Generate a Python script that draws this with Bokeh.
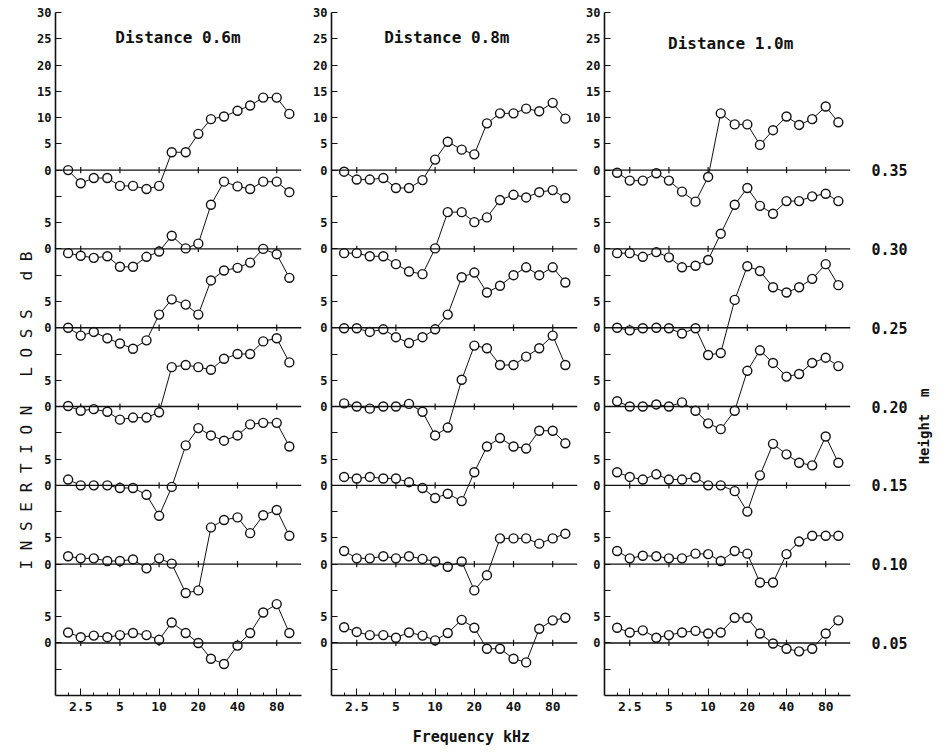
from bokeh.plotting import figure
from bokeh.layouts import row
from bokeh.models import FixedTicker, Label, Range1d, Span, LinearAxis, LogAxis, CustomJSTickFormatter
from bokeh.embed import file_html
from bokeh.resources import INLINE

# ---------------- data ----------------
FREQ = [2, 2.5, 3.15, 4, 5, 6.3, 8, 10, 12.5, 16, 20, 25, 31.5, 40, 50, 63, 80, 100]
MAJOR_TICKS = [2.5, 5, 10, 20, 40, 80]
HEIGHTS = ["0.35", "0.30", "0.25", "0.20", "0.15", "0.10", "0.05"]
TITLES = ["Distance 0.6m", "Distance 0.8m", "Distance 1.0m"]
STEP = 15  # dB offset between stacked traces

# insertion loss (dB), rows ordered by height 0.35 ... 0.05
IL_D06 = [
    [0, -2.5, -1.5, -1.5, -3.0, -3.0, -3.6, -3.0, 3.4, 3.4, 6.9, 9.7, 10.2, 11.3, 12.3, 13.8, 13.8, 10.7],
    [-0.8, -1.3, -1.7, -1.4, -3.4, -3.4, -1.5, -0.5, 2.5, 0.1, 1.0, 8.4, 12.8, 11.9, 11.4, 12.8, 12.8, 10.8],
    [0, -1.5, -0.8, -2.0, -3.0, -4.0, -2.4, 2.5, 5.4, 4.4, 2.5, 9.0, 10.9, 11.4, 12.4, 15.0, 14.0, 9.5],
    [0.1, -0.8, -0.5, -1.0, -2.5, -2.1, -2.1, -1.1, 7.5, 7.9, 7.5, 7.0, 9.1, 10.0, 10.0, 12.4, 13.0, 8.4],
    [1.1, 0, 0, 0, -0.5, -0.5, -1.8, -5.8, -0.3, 7.6, 10.9, 9.5, 8.5, 9.5, 11.6, 11.9, 11.9, 7.4],
    [1.5, 1.1, 1.1, 0.6, 0.6, 0.9, -0.8, 1.1, 0.1, -5.5, -5.0, 7.0, 8.4, 8.9, 5.9, 9.3, 10.3, 5.4],
    [2.0, 1.1, 1.4, 1.1, 1.5, 1.9, 1.5, 0.6, 3.9, 1.9, 0, -3.0, -4.0, -0.5, 1.9, 5.8, 7.4, 1.9],
]
IL_D08 = [
    [-0.3, -1.8, -1.8, -1.5, -3.4, -3.4, -1.9, 2.0, 5.4, 3.9, 3.0, 8.9, 10.8, 10.8, 11.7, 11.2, 12.8, 9.8],
    [-0.8, -0.8, -1.4, -1.4, -2.9, -4.3, -4.8, 0.1, 7.0, 7.0, 5.1, 6.0, 9.3, 10.3, 9.8, 10.8, 11.2, 9.7],
    [-0.1, -0.1, -0.8, -0.3, -1.8, -2.9, -1.8, -0.3, 2.5, 9.6, 10.5, 6.7, 8.0, 10.0, 11.5, 10.0, 11.5, 8.6],
    [0.6, 0, -0.4, 0, 0, 0.5, -1.0, -5.5, -4.0, 5.1, 11.6, 11.1, 7.9, 7.9, 9.5, 11.1, 13.5, 7.9],
    [1.6, 1.3, 1.6, 1.3, 1.3, 0.6, -0.5, -2.4, -1.6, -3.0, 2.5, 7.4, 9.0, 7.4, 7.0, 10.4, 10.4, 8.0],
    [2.5, 1.1, 1.1, 1.5, 1.1, 1.5, 1.0, 0.5, -0.5, 0.5, -5.0, -2.1, 4.9, 4.9, 4.9, 3.9, 4.9, 5.8],
    [3.0, 2.1, 1.5, 1.5, 1.0, 2.0, 1.4, 0.5, 1.9, 4.4, 2.9, -1.1, -1.1, -3.0, -3.7, 2.7, 4.3, 4.8],
]
IL_D10 = [
    [-0.5, -2.0, -2.0, -0.6, -2.0, -4.1, -6.0, -1.3, 10.8, 8.7, 8.7, 4.8, 7.6, 10.2, 8.6, 9.7, 12.1, 9.1],
    [-0.8, -0.8, -1.5, -0.6, -1.6, -3.5, -3.2, -2.1, 2.9, 8.4, 11.6, 8.2, 6.7, 9.1, 9.1, 10.0, 10.5, 9.1],
    [0, -0.5, -0.1, 0, -0.1, -1.1, -0.1, -5.2, -4.8, 5.3, 11.7, 10.8, 7.7, 6.7, 7.7, 9.3, 12.1, 8.1],
    [1.0, 0, 0, 0.4, 0, 0.8, -0.8, -3.2, -4.3, -0.8, 6.8, 10.7, 8.3, 5.7, 6.2, 8.3, 9.3, 7.7],
    [2.5, 1.6, 1.1, 2.1, 1.1, 1.1, 1.5, 0, 0, -1.1, -5.0, 1.9, 7.9, 5.9, 4.3, 3.8, 9.3, 4.3],
    [2.5, 1.1, 1.6, 1.5, 1.1, 1.1, 2.0, 1.9, 0.6, 2.5, 2.0, -3.5, -3.5, 1.9, 4.3, 5.4, 5.4, 5.4],
    [2.9, 2.0, 2.4, 1.0, 1.5, 2.0, 2.3, 1.8, 2.0, 4.8, 4.8, 1.8, -0.1, -1.1, -1.6, -1.1, 1.8, 4.3],
]
PANELS = [IL_D06, IL_D08, IL_D10]

Y_TITLE = "I N S E R T I O N\u00a0\u00a0 L O S S\u00a0\u00a0 d B"
X_TITLE = "Frequency kHz"
H_TITLE = "Height\u00a0\u00a0m"

# ---------------- style ----------------
FONT = "DejaVu Sans Mono"
INK = "#111111"
X_RANGE = (1.6, 124)
Y_RANGE = (-10, 120)
N = len(HEIGHTS)
OFFSETS = [(N - 1 - i) * STEP for i in range(N)]
TOP = OFFSETS[0]

y_ticks = list(range(-5, 121, 5))
def y_label(t):
    if t >= TOP:
        return str(t - TOP)
    r = t % STEP
    return {0: "0", 5: "5"}.get(r, "")
y_overrides = {t: y_label(t) for t in y_ticks}

# (left border, right border, title x, title y)
LAYOUT = [(55, 4, 13.95, 115.2), (26, 3, 12.3, 115.2), (24, 96, 14.9, 114.1)]
FRAME_W = 246
HEIGHT = 750


def text_axis(axis, size, standoff, bold=True, orientation="horizontal"):
    axis.axis_line_color = None
    axis.major_tick_line_color = None
    axis.minor_tick_line_color = None
    axis.major_tick_in = 0
    axis.major_tick_out = 0
    axis.minor_tick_in = 0
    axis.minor_tick_out = 0
    axis.major_label_standoff = standoff
    axis.major_label_text_font = FONT
    axis.major_label_text_font_style = "bold" if bold else "normal"
    axis.major_label_text_font_size = size
    axis.major_label_text_color = INK
    axis.major_label_orientation = orientation


figs = []
for k, (data, title) in enumerate(zip(PANELS, TITLES)):
    lb, rb, tx, ty = LAYOUT[k]
    p = figure(width=lb + FRAME_W + rb, height=HEIGHT, x_axis_type="log",
               x_range=Range1d(*X_RANGE), y_range=Range1d(*Y_RANGE),
               output_backend="svg", toolbar_location=None,
               min_border_left=lb, min_border_right=rb,
               min_border_top=12, min_border_bottom=55)
    p.outline_line_color = None
    p.grid.visible = False
    p.background_fill_color = "white"

    # x axis
    xa = p.xaxis[0]
    xa.ticker = FixedTicker(ticks=MAJOR_TICKS, minor_ticks=FREQ)
    xa.formatter = CustomJSTickFormatter(code="return tick.toString();")
    xa.major_tick_in = 7
    xa.major_tick_out = 0
    xa.minor_tick_in = 3
    xa.minor_tick_out = 0
    xa.axis_line_width = 1.6
    xa.axis_line_color = INK
    xa.major_tick_line_color = INK
    xa.minor_tick_line_color = INK
    xa.major_label_text_color = INK
    xa.major_label_text_font = FONT
    xa.major_label_text_font_style = "bold"
    xa.major_label_text_font_size = "13px"
    xa.major_label_standoff = 6

    # y axis
    ya = p.yaxis[0]
    ya.ticker = FixedTicker(ticks=y_ticks)
    ya.major_label_overrides = y_overrides
    ya.major_tick_in = 6
    ya.major_tick_out = 0
    ya.minor_tick_line_color = None
    ya.axis_line_width = 1.6
    ya.axis_line_color = INK
    ya.major_tick_line_color = INK
    ya.major_label_text_color = INK
    ya.major_label_text_font = FONT
    ya.major_label_text_font_style = "bold"
    ya.major_label_text_font_size = "12px"
    ya.major_label_standoff = 4

    # baselines with small tick crosses
    for off in OFFSETS:
        p.add_layout(Span(location=off, dimension="width", line_color=INK, line_width=1.4))
    cx, cy0, cy1 = [], [], []
    for off in OFFSETS:
        for f in MAJOR_TICKS:
            cx.append(f)
            cy0.append(off - 0.6)
            cy1.append(off + 0.6)
    p.segment(x0=cx, y0=cy0, x1=cx, y1=cy1, line_color=INK, line_width=1.2)

    # traces
    for vals, off in zip(data, OFFSETS):
        ys = [v + off for v in vals]
        p.line(FREQ, ys, line_color=INK, line_width=1.0)
        p.scatter(FREQ, ys, size=9, fill_color="white", line_color=INK, line_width=1.4)

    p.add_layout(Label(x=tx, y=ty, text=title, text_font=FONT, text_font_style="bold",
                       text_font_size="16px", text_align="center", text_baseline="middle",
                       text_color=INK))
    figs.append(p)

# left title, as an extra left axis carrying one rotated label
ya2 = LinearAxis(ticker=FixedTicker(ticks=[74.5]), major_label_overrides={74.5: Y_TITLE})
text_axis(ya2, "16px", 8, bold=False, orientation=1.5708)
figs[0].add_layout(ya2, "left")

# bottom title, as an extra axis under the middle panel
xb2 = LogAxis(ticker=FixedTicker(ticks=[19]),
              formatter=CustomJSTickFormatter(code="return 'Frequency kHz';"))
text_axis(xb2, "15px", 14)
figs[1].add_layout(xb2, "below")

# height labels on the right of the last panel
p3 = figs[2]
ra = LinearAxis(ticker=FixedTicker(ticks=OFFSETS),
                major_label_overrides={off: h for off, h in zip(OFFSETS, HEIGHTS)})
text_axis(ra, "15px", 21)
p3.add_layout(ra, "right")
ra2 = LinearAxis(ticker=FixedTicker(ticks=[34]), major_label_overrides={34: H_TITLE})
text_axis(ra2, "14px", 14, orientation=1.5708)
p3.add_layout(ra2, "right")

layout = row(*figs, spacing=0)
open("out.html", "w").write(file_html(layout, INLINE))
